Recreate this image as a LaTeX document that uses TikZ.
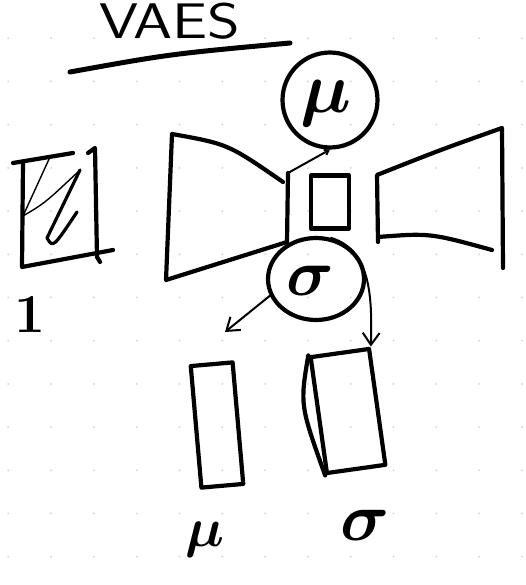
\documentclass[tikz,border=0pt]{standalone}
\usepackage{amsmath}
\usetikzlibrary{arrows.meta,shapes.geometric}
\definecolor{dotblue}{RGB}{208,222,242}

\begin{document}
\begin{tikzpicture}[x=1pt,y=-1pt,
  ink/.style={line width=4.2pt,line cap=round,line join=round},
  pen/.style={line width=2pt,line cap=round,line join=round},
  blob/.style={draw,ink,inner sep=0pt},
  hand/.style={inner sep=0pt,font=\Huge\bfseries,scale=#1/24.88},
  barb/.style={-{Straight Barb[length=#1,width=1.4*#1]}}]
  \useasboundingbox (0,0) rectangle (525,585);
  % dotted paper
  \foreach \gx in {0,...,12}{
    \foreach \gy in {0,...,13}{
      \fill[dotblue] ({8.3+42.8*\gx},{38.3+43.2*\gy}) circle (1.2pt);
    }
  }
  % title
  \node[hand=50,xscale=1.25,anchor=base] (title) at (170,39) {\sffamily\mdseries VAES};
  \draw[ink,line width=5pt] (70,72) .. controls (170,54) .. (290,43);
  % input digit
  \draw[ink] (13,163) -- (73,153);
  \draw[ink] (23,163) -- (22,267) -- (113,250);
  \draw[ink] (88,153) -- (95,148) -- (97,257) -- (100,262);
  \draw[pen,line width=1.4pt] (50,157) -- (23,216) .. controls (45,203) .. (80,170);
  \draw[ink,line width=3.2pt] (80,170) -- (47,238) .. controls (53,248) .. (77,212);
  \node[hand=55] (one) at (30,314) {1};
  % encoder
  \draw[ink] (287,242) -- (166,280) -- (172,134) .. controls (228,144) .. (283,182);
  \coordinate (encTR) at (288,173);
  \draw[ink] (encTR) -- (287,242);
  % latent code
  \node[blob,minimum width=38pt,minimum height=53pt] (z) at (330,202) {};
  \node[blob,circle,minimum size=95pt] (mu) at (330,100) {};
  \node[hand=72] (mutext) at (326,104) {$\boldsymbol\mu$};
  \node[blob,ellipse,minimum width=96pt,minimum height=82pt] (sigma) at (316,279) {};
  \node[hand=66] (sigmatext) at (310,281) {$\boldsymbol\sigma$};
  \draw[pen,barb=4pt] (encTR) -- (mu.south);
  % decoder
  \draw[ink] (378,242) -- (377,175) .. controls (440,150) .. (502,128) -- (503,268);
  \draw[ink] (378,237) .. controls (430,233) .. (492,250);
  % samples
  \node[blob,minimum width=42pt,minimum height=122pt,rotate=5] (zmu) at (217,425) {};
  \node[blob,minimum width=59pt,minimum height=117pt,rotate=8] (zsig) at (348,411) {};
  \draw[ink] (zsig.north west) .. controls (300,405) .. (zsig.south west);
  \coordinate (drop) at (225,332);
  \draw[pen,barb=12pt] (sigma.200) -- (drop);
  \draw[pen,barb=12pt] (sigma.70) .. controls (372,250) and (372,300) .. (zsig.north east);
  \node[hand=55] (mulab) at (205,540) {$\boldsymbol\mu$};
  \node[hand=68] (siglab) at (365,525) {$\boldsymbol\sigma$};
\end{tikzpicture}
\end{document}
